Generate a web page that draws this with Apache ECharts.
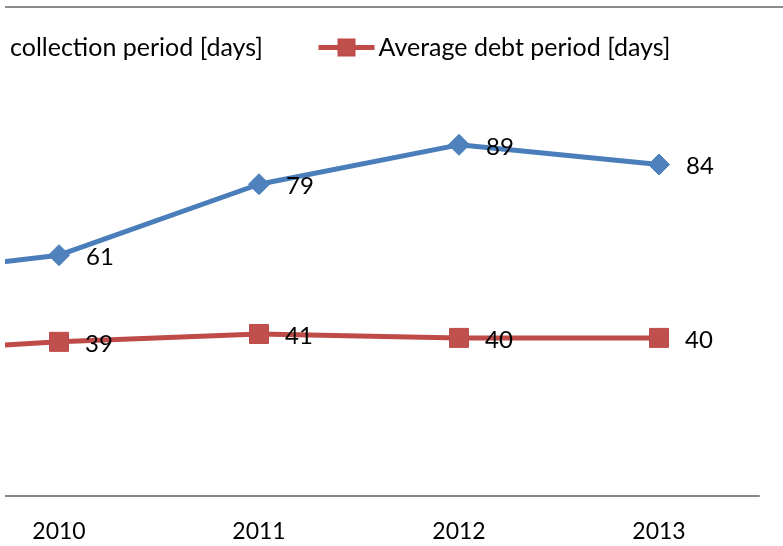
<!DOCTYPE html>
<html>
<head>
<meta charset="utf-8">
<script src="https://cdn.jsdelivr.net/npm/echarts@6/dist/echarts.min.js"></script>
<style>
html,body{margin:0;padding:0;background:#fff;overflow:hidden;width:783px;height:546px;}
#wrap{position:absolute;left:5px;top:0;width:778px;height:546px;overflow:hidden;}
#chart{position:absolute;left:-246px;top:0;width:1024px;height:546px;}
</style>
</head>
<body>
<div id="wrap"><div id="chart"></div></div>
<script>
const years = ['2009', '2010', '2011', '2012', '2013'];
const collectionDays = [55, 61, 79, 89, 84];
const debtDays = [36, 39, 41, 40, 40];
const seriesNames = ['Average collection period [days]', 'Average debt period [days]'];

const FONT = 'Lato';
const chart = echarts.init(document.getElementById('chart'), null, {renderer: 'canvas'});
const labelStyle = {
  show: true, position: 'right', distance: 16, offset: [0, 2],
  color: '#000', fontFamily: FONT, fontSize: 24
};
const legendCommon = {
  top: 35, itemWidth: 56, itemHeight: 20, itemGap: 0, padding: 0,
  lineStyle: {width: 5},
  textStyle: {fontFamily: FONT, fontSize: 25, color: '#000', padding: [0, 0, 0, -1]}
};
chart.setOption({
  animation: false,
  backgroundColor: '#fff',
  graphic: [{
    type: 'line', shape: {x1: 0, y1: 7, x2: 1024, y2: 7},
    style: {stroke: '#8c8c8c', lineWidth: 2}
  }],
  legend: [
    Object.assign({data: [seriesNames[0]], right: 520}, legendCommon),
    Object.assign({data: [seriesNames[1]], left: 557}, legendCommon)
  ],
  grid: {left: 0, right: 24, top: 101.5, bottom: 50.5, containLabel: false},
  xAxis: {
    type: 'category', data: years, boundaryGap: true,
    axisLine: {lineStyle: {color: '#868686', width: 2}},
    axisTick: {show: false},
    axisLabel: {color: '#000', fontFamily: FONT, fontSize: 23, margin: 25}
  },
  yAxis: {type: 'value', min: 0, max: 100, show: false, splitLine: {show: false}},
  series: [{
    name: seriesNames[0], type: 'line', data: collectionDays,
    symbol: 'diamond', symbolSize: 21,
    lineStyle: {color: '#4a7ebb', width: 5},
    itemStyle: {color: '#4f81bd', borderColor: '#4a7ebb', borderWidth: 1},
    label: labelStyle
  }, {
    name: seriesNames[1], type: 'line', data: debtDays,
    symbol: 'rect', symbolSize: 19,
    lineStyle: {color: '#be4b48', width: 5},
    itemStyle: {color: '#c0504d', borderColor: '#be4b48', borderWidth: 1},
    label: labelStyle
  }]
});
</script>
</body>
</html>
